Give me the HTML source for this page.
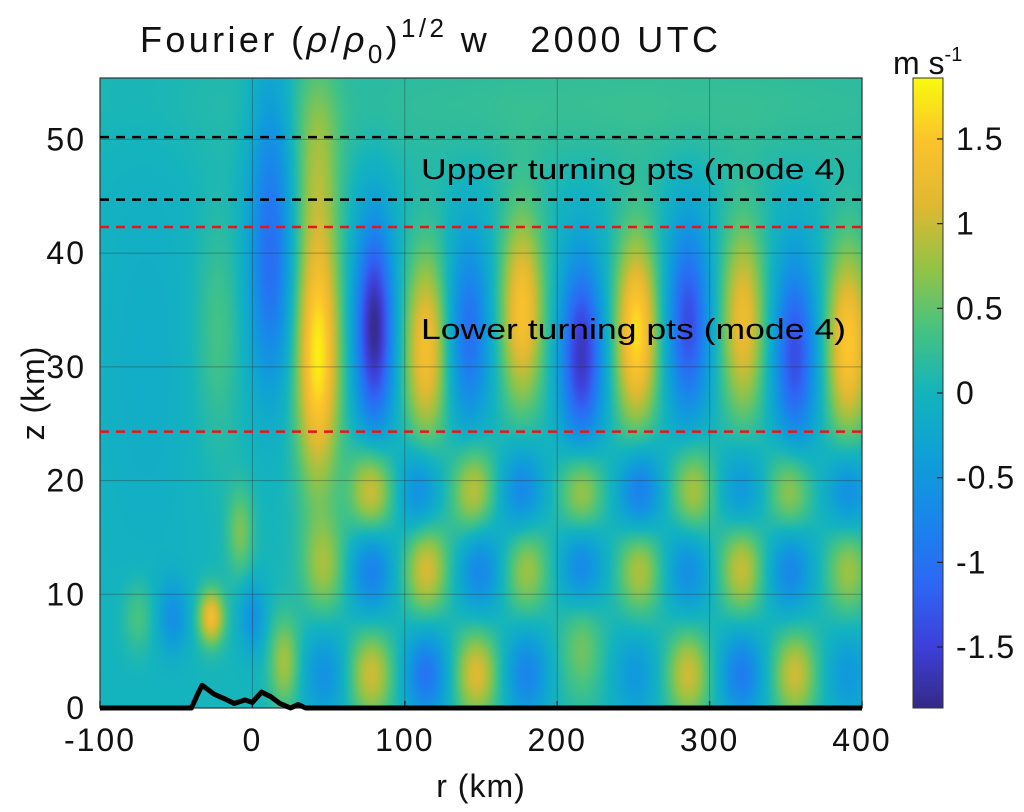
<!DOCTYPE html>
<html><head><meta charset="utf-8">
<style>
body{margin:0;background:#fff;width:1024px;height:812px;overflow:hidden;font-family:"Liberation Sans",sans-serif;}
#wrap{position:relative;width:1024px;height:812px;}
canvas{position:absolute;}
svg{position:absolute;left:0;top:0;}
</style></head>
<body>
<div id="wrap">
<canvas id="hm" width="762" height="630" style="left:100px;top:78px"></canvas>
<canvas id="cb" width="30" height="630" style="left:913px;top:78px"></canvas>
<svg id="ov" width="1024" height="812"></svg>
</div>
<script>
// ---- data (blobs of the wave field) ----
const blobR   = [12,43,80,114,142,177,216,252,286,322,356,391,-23,
  78,110,145,177,216,254,289,321,353,391,
  47,78,114,149,180,216,254,286,321,353,391,
  21,47,78,114,147,180,216,251,286,321,356,391,
  -27,-8,-52,0,-75,250,-70,12,43];
const blobZ   = [37.8,31,33.4,31.5,33,35,31,33,34,34,31,32,33,
  19,19,19,19,19,19,19,19,19,19,
  12.4,12.4,12.4,12.4,12.4,12.4,12.4,12.4,12.4,12.4,12.4,
  4,3,3,3,3,3,6,3,3,3,3,3,
  8,15.5,8,8,8,53,30,50,48];
const blobAmp = [-1.0,1.75,-1.85,1.35,-1.05,1.4,-1.65,1.65,-1.4,1.25,-1.4,1.5,0.35,
  1.2,-0.8,1.0,-0.8,1.0,-1.0,0.9,-0.6,0.9,-0.8,
  0.7,-0.9,1.1,-0.8,0.8,-0.9,0.9,-0.7,1.0,-0.8,0.8,
  0.8,-0.6,1.0,-1.0,1.1,-0.8,0.6,-0.5,1.0,-0.9,1.0,-0.5,
  1.3,0.6,-0.6,-0.6,0.4,0.25,-0.15,-0.5,0.6];
const blobSR  = [10,10,9,10,10,10,10,10,10,10,10,10,10,
  10,10,10,10,10,10,10,10,10,10,
  10,10,10,10,10,10,10,10,10,10,10,
  7,10,10,10,10,10,10,10,10,10,10,10,
  6,6,7,6,7,200,25,10,10];
const blobSZ  = [7,8,6.5,6,6,6,6,6,6,6,6,6,7,
  3,3,3,3,3,3,3,3,3,3,
  3,3,3,3,3,3,3,3,3,3,3,
  2.8,2.8,2.8,2.8,2.8,2.8,3.8,2.8,2.8,2.8,2.8,2.8,
  1.7,2.7,2.2,2.2,2.2,4,15,6,6];
const xTicks=[-100,0,100,200,300,400];
const yTicks=[0,10,20,30,40,50];
const cbTicks=[-1.5,-1,-0.5,0,0.5,1,1.5];
const terrainR=[-100,-40,-36,-33,-29,-25,-18,-12,-5,0,6,12,18,25,30,35,400];
const terrainZ=[0,0,1.2,2,1.6,1.2,0.8,0.4,0.7,0.5,1.4,1.0,0.4,0,0.3,0,0];
const blackDash=[50.2,44.7];
const redDash=[42.3,24.3];
// ---- axes ----
const X0=100,X1=862,Y0=708,Y1=78;
const rMin=-100,rMax=400,zMin=0,zMax=55.4;
const xs=r=>X0+(r-rMin)/(rMax-rMin)*(X1-X0);
const ys=z=>Y0-(z-zMin)/(zMax-zMin)*(Y0-Y1);
const cMin=-1.86,cMax=1.86;
const stops=[[53,42,135],[62,65,220],[45,105,245],[25,135,235],[15,160,215],[20,180,190],[70,195,130],[150,195,70],[225,185,50],[252,195,45],[249,251,14]];
function cmap(v){let t=(v-cMin)/(cMax-cMin);t=Math.max(0,Math.min(1,t))*10;let i=Math.min(9,Math.floor(t)),f=t-i;const a=stops[i],b=stops[i+1];return [a[0]+(b[0]-a[0])*f,a[1]+(b[1]-a[1])*f,a[2]+(b[2]-a[2])*f];}
// heatmap
(function(){const c=document.getElementById('hm'),ctx=c.getContext('2d');const W=c.width,H=c.height;const img=ctx.createImageData(W,H);
for(let py=0;py<H;py++){const z=zMax-(py+0.5)/H*(zMax-zMin);for(let px=0;px<W;px++){const r=rMin+(px+0.5)/W*(rMax-rMin);let v=0.02;
for(let k=0;k<blobR.length;k++){const dr=(r-blobR[k])/blobSR[k],dz=(z-blobZ[k])/blobSZ[k];const e=dr*dr+dz*dz;if(e<25)v+=blobAmp[k]*Math.exp(-0.5*e);}
const col=cmap(v);const o=(py*W+px)*4;img.data[o]=col[0];img.data[o+1]=col[1];img.data[o+2]=col[2];img.data[o+3]=255;}}
ctx.putImageData(img,0,0);})();
// colorbar
(function(){const c=document.getElementById('cb'),ctx=c.getContext('2d');for(let py=0;py<c.height;py++){const v=cMax-(py+0.5)/c.height*(cMax-cMin);const col=cmap(v);ctx.fillStyle=`rgb(${col[0]|0},${col[1]|0},${col[2]|0})`;ctx.fillRect(0,py,c.width,1);}})();
// overlay
const svg=document.getElementById('ov');const NS='http://www.w3.org/2000/svg';
function mk(t,at,txt){const e=document.createElementNS(NS,t);for(const k in at)e.setAttribute(k,at[k]);if(txt!==undefined)e.textContent=txt;svg.appendChild(e);return e;}
xTicks.forEach(t=>{const x=xs(t);
 const g=mk('line',{x1:x,y1:Y1,x2:x,y2:Y0,stroke:'rgba(40,40,40,0.35)','stroke-width':1});
 
 
 const tl=mk('text',{x:x,y:751,'font-size':32,'letter-spacing':2,'text-anchor':'middle',fill:'#111'},String(t));
 
 
 mk('line',{x1:x,y1:Y0,x2:x,y2:Y0-7,stroke:'#222','stroke-width':1.5});
});
yTicks.forEach(t=>{const y=ys(t);
 const g=mk('line',{x1:X0,y1:y,x2:X1,y2:y,stroke:'rgba(40,40,40,0.35)','stroke-width':1});
 
 
 const tl=mk('text',{x:86,y:y+11,'font-size':32,'letter-spacing':2,'text-anchor':'end',fill:'#111'},String(t));
 
 
});
const fr=mk('rect',{x:X0,y:Y1,width:X1-X0,height:Y0-Y1,fill:'none',stroke:'#333','stroke-width':1.2});


blackDash.forEach(z=>{const l=mk('line',{x1:X0,y1:ys(z),x2:X1,y2:ys(z),stroke:'#000','stroke-width':2.5,'stroke-dasharray':'9 7'});
 
 });
redDash.forEach(z=>{const l=mk('line',{x1:X0,y1:ys(z),x2:X1,y2:ys(z),stroke:'#e8141c','stroke-width':2.5,'stroke-dasharray':'9 7'});
 
 });
const tp=mk('polyline',{points:terrainR.map((r,i)=>xs(r)+','+ys(terrainZ[i])).join(' '),fill:'none',stroke:'#000','stroke-width':5,'stroke-linejoin':'round'});


cbTicks.forEach(t=>{const y=78+(cMax-t)/(cMax-cMin)*630;
 mk('line',{x1:937,y1:y,x2:943,y2:y,stroke:'#222','stroke-width':1.2});
 const tl=mk('text',{x:956,y:y+11,'font-size':32,'letter-spacing':1,fill:'#111'},String(t));
 
 
});
mk('rect',{x:913,y:78,width:30,height:630,fill:'none',stroke:'#333','stroke-width':1});
</script>
<svg width="1024" height="812" style="position:absolute;left:0;top:0">
<text x="140" y="52" font-size="36" textLength="578" lengthAdjust="spacing" fill="#111">Fourier (<tspan font-style="italic">ρ</tspan>/<tspan font-style="italic">ρ</tspan><tspan font-size="26" dy="11">0</tspan><tspan dy="-11">)</tspan><tspan font-size="26" dy="-15">1/2</tspan><tspan dy="15" xml:space="preserve"> w   2000 UTC</tspan></text>
<text x="893" y="74" font-size="32" fill="#111">m s<tspan font-size="20" dy="-13">-1</tspan></text>
<text x="421" y="179" font-size="29" textLength="425" lengthAdjust="spacingAndGlyphs" fill="#000">Upper turning pts (mode 4)</text>
<text x="421" y="339" font-size="29" textLength="425" lengthAdjust="spacingAndGlyphs" fill="#000">Lower turning pts (mode 4)</text>
<text x="481" y="797" font-size="32" letter-spacing="1" text-anchor="middle" fill="#111">r (km)</text>
<text transform="translate(44,393) rotate(-90)" font-size="32" letter-spacing="1" text-anchor="middle" fill="#111">z (km)</text>
</svg>
</body></html>
